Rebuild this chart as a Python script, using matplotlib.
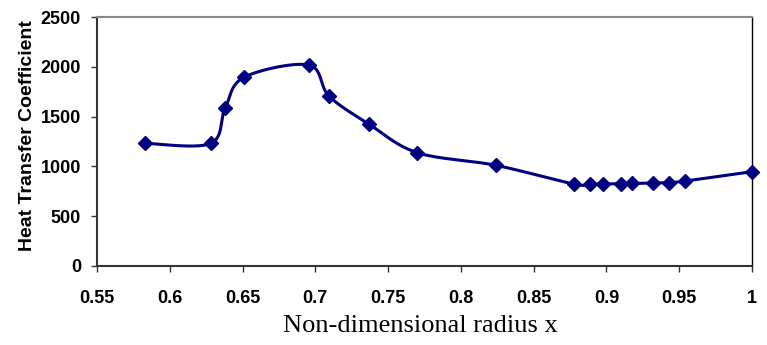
import matplotlib.pyplot as plt
import numpy as np

# radius positions and heat transfer coefficient values
radius = [0.583, 0.628, 0.638, 0.651, 0.6955, 0.7095, 0.737, 0.770, 0.824,
          0.8775, 0.889, 0.8975, 0.910, 0.9175, 0.932, 0.943, 0.954, 1.0]
htc = [1232, 1230, 1583, 1895, 2018, 1704, 1423, 1138, 1011,
       823, 823, 823, 828, 829, 833, 837, 853, 947]

xticks = [0.55, 0.6, 0.65, 0.7, 0.75, 0.8, 0.85, 0.9, 0.95, 1.0]
xtick_labels = ['0.55', '0.6', '0.65', '0.7', '0.75', '0.8', '0.85', '0.9', '0.95', '1']
yticks = [0, 500, 1000, 1500, 2000, 2500]

navy = '#000080'

fig = plt.figure(figsize=(7.67, 3.45), dpi=100)
ax = fig.add_axes([97 / 767, 1 - 266 / 345, 655 / 767, 249 / 345])
ax.set_xlim(0.55, 1.0)
ax.set_ylim(0, 2500)


def smooth_curve(ax, xs, ys, n=30):
    # catmull-rom style bezier through the points, done in display space
    pts = ax.transData.transform(np.column_stack([xs, ys]))
    out = []
    for i in range(len(pts) - 1):
        p0 = pts[max(i - 1, 0)]
        p1 = pts[i]
        p2 = pts[i + 1]
        p3 = pts[min(i + 2, len(pts) - 1)]
        c1 = p1 + (p2 - p0) / 6
        c2 = p2 - (p3 - p1) / 6
        t = np.linspace(0, 1, n)[:, None]
        seg = ((1 - t) ** 3 * p1 + 3 * (1 - t) ** 2 * t * c1
               + 3 * (1 - t) * t ** 2 * c2 + t ** 3 * p2)
        out.append(seg if i == 0 else seg[1:])
    out = np.vstack(out)
    return ax.transData.inverted().transform(out)


curve = smooth_curve(ax, radius, htc)
ax.plot(curve[:, 0], curve[:, 1], color=navy, lw=2.2, solid_capstyle='round',
        clip_on=False)
ax.plot(radius, htc, 'D', color=navy, ms=7, clip_on=False, zorder=3)

ax.set_xticks(xticks)
ax.set_xticklabels(xtick_labels)
ax.set_yticks(yticks)

tick_font = dict(family='Liberation Sans', weight='bold', size=13)
for lab in ax.get_xticklabels() + ax.get_yticklabels():
    lab.set_fontproperties(tick_font)

ax.tick_params(axis='both', direction='out', length=4.5, width=1, color='#333333')
ax.tick_params(axis='x', pad=13)
ax.tick_params(axis='y', pad=7)

ax.spines['left'].set_color('#333333')
ax.spines['left'].set_linewidth(1.5)
ax.spines['bottom'].set_color('#333333')
ax.spines['bottom'].set_linewidth(1.5)
ax.spines['top'].set_color('#888888')
ax.spines['top'].set_linewidth(1.5)
ax.spines['right'].set_color('black')
ax.spines['right'].set_linewidth(1)

ax.set_ylabel('Heat Transfer Coefficient', family='Liberation Sans',
              weight='bold', size=14)
ax.yaxis.set_label_coords(-0.093, 0.522)
ax.set_xlabel('Non-dimensional radius x', family='Liberation Serif', size=19)
ax.xaxis.set_label_coords(0.493, -0.195)

fig.savefig('out.png', dpi=100)
